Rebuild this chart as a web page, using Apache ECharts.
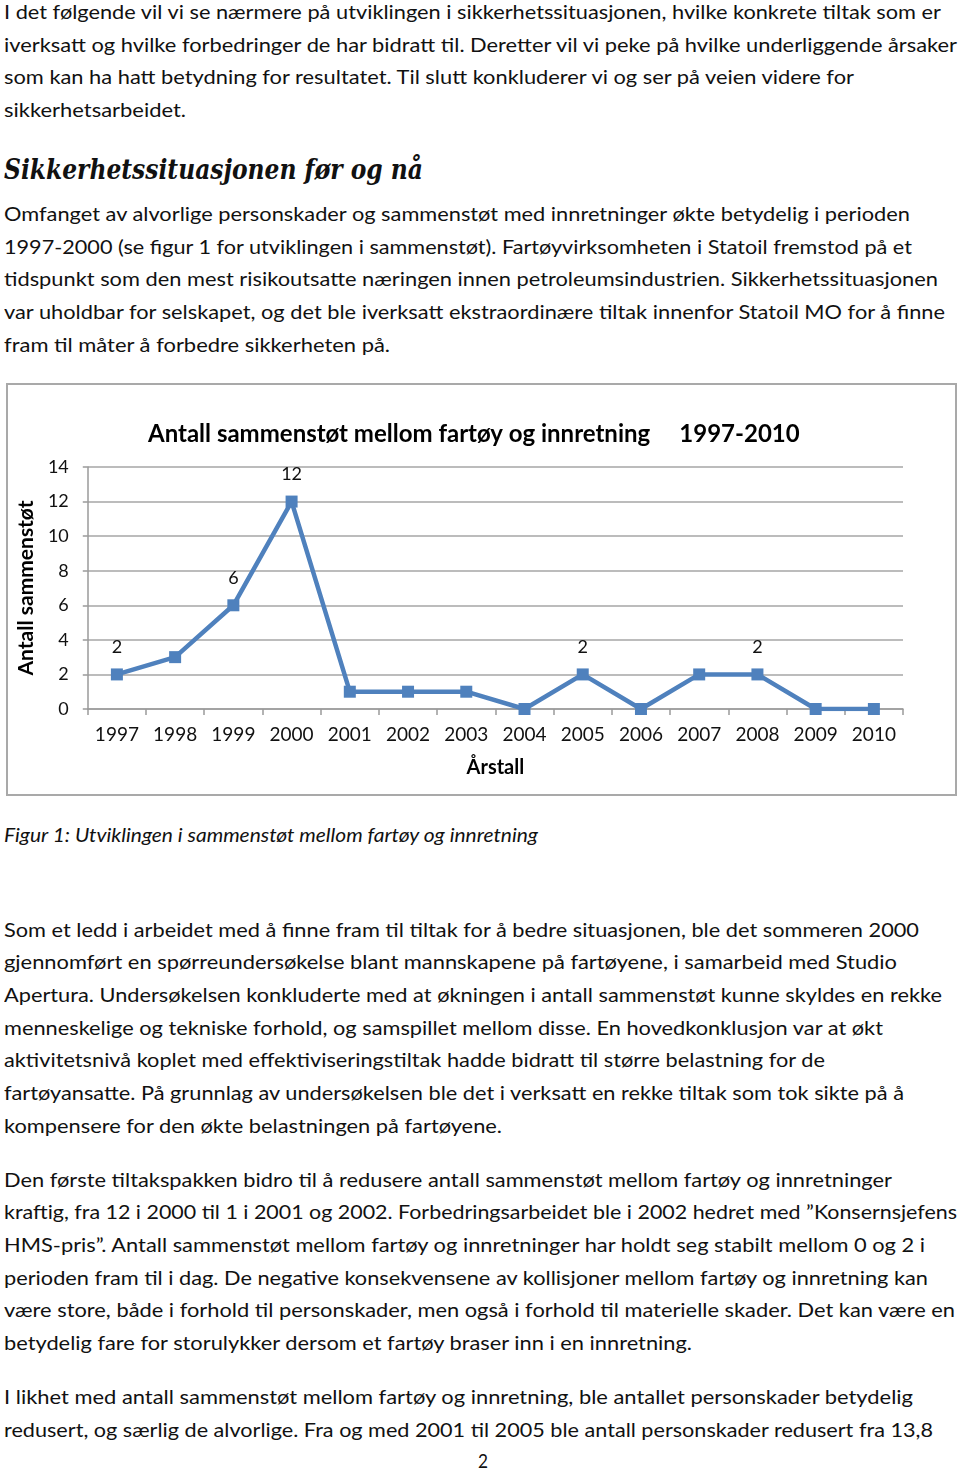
<!DOCTYPE html>
<html>
<head>
<meta charset="utf-8">
<script src="https://cdn.jsdelivr.net/npm/echarts@6/dist/echarts.min.js"></script>
<style>
  html, body { margin: 0; padding: 0; background: #fff; }
  body { position: relative; width: 960px; height: 1468px; overflow: hidden; font-family: Lato, "Open Sans", sans-serif; color: #111; }
  .ln { position: absolute; left: 4px; display: inline-block; white-space: nowrap; font-size: 20px; line-height: 32px; transform-origin: left center; }
  .h { font-family: "DejaVu Serif", serif; font-weight: bold; font-style: italic; font-size: 27px; line-height: 40px; }
  .cap { font-style: italic; }
  #chartBox { position: absolute; left: 6px; top: 383px; width: 951px; height: 413px; border: 2px solid #a9a9a9; box-sizing: border-box; }
  #chart { width: 947px; height: 409px; }
</style>
</head>
<body>

<div class="ln" style="top:-5px" data-w="937">I det følgende vil vi se nærmere på utviklingen i sikkerhetssituasjonen, hvilke konkrete tiltak som er</div>
<div class="ln" style="top:28px" data-w="953">iverksatt og hvilke forbedringer de har bidratt til. Deretter vil vi peke på hvilke underliggende årsaker</div>
<div class="ln" style="top:60px" data-w="850">som kan ha hatt betydning for resultatet. Til slutt konkluderer vi og ser på veien videre for</div>
<div class="ln" style="top:93px" data-w="182">sikkerhetsarbeidet.</div>

<div class="ln h" style="top:150px" data-w="419">Sikkerhetssituasjonen før og nå</div>

<div class="ln" style="top:197px" data-w="906">Omfanget av alvorlige personskader og sammenstøt med innretninger økte betydelig i perioden</div>
<div class="ln" style="top:230px" data-w="908">1997-2000 (se figur 1 for utviklingen i sammenstøt). Fartøyvirksomheten i Statoil fremstod på et</div>
<div class="ln" style="top:262px" data-w="934">tidspunkt som den mest risikoutsatte næringen innen petroleumsindustrien. Sikkerhetssituasjonen</div>
<div class="ln" style="top:295px" data-w="941">var uholdbar for selskapet, og det ble iverksatt ekstraordinære tiltak innenfor Statoil MO for å finne</div>
<div class="ln" style="top:328px" data-w="386">fram til måter å forbedre sikkerheten på.</div>

<div id="chartBox"><div id="chart"></div></div>

<div class="ln cap" style="top:818px" data-w="534">Figur 1: Utviklingen i sammenstøt mellom fartøy og innretning</div>

<div class="ln" style="top:913px" data-w="915">Som et ledd i arbeidet med å finne fram til tiltak for å bedre situasjonen, ble det sommeren 2000</div>
<div class="ln" style="top:945px" data-w="893">gjennomført en spørreundersøkelse blant mannskapene på fartøyene, i samarbeid med Studio</div>
<div class="ln" style="top:978px" data-w="938">Apertura. Undersøkelsen konkluderte med at økningen i antall sammenstøt kunne skyldes en rekke</div>
<div class="ln" style="top:1011px" data-w="879">menneskelige og tekniske forhold, og samspillet mellom disse. En hovedkonklusjon var at økt</div>
<div class="ln" style="top:1043px" data-w="821">aktivitetsnivå koplet med effektiviseringstiltak hadde bidratt til større belastning for de</div>
<div class="ln" style="top:1076px" data-w="900">fartøyansatte. På grunnlag av undersøkelsen ble det i verksatt en rekke tiltak som tok sikte på å</div>
<div class="ln" style="top:1109px" data-w="498">kompensere for den økte belastningen på fartøyene.</div>

<div class="ln" style="top:1163px" data-w="888">Den første tiltakspakken bidro til å redusere antall sammenstøt mellom fartøy og innretninger</div>
<div class="ln" style="top:1195px" data-w="953">kraftig, fra 12 i 2000 til 1 i 2001 og 2002. Forbedringsarbeidet ble i 2002 hedret med ”Konsernsjefens</div>
<div class="ln" style="top:1228px" data-w="921">HMS-pris”. Antall sammenstøt mellom fartøy og innretninger har holdt seg stabilt mellom 0 og 2 i</div>
<div class="ln" style="top:1261px" data-w="924">perioden fram til i dag. De negative konsekvensene av kollisjoner mellom fartøy og innretning kan</div>
<div class="ln" style="top:1293px" data-w="951">være store, både i forhold til personskader, men også i forhold til materielle skader. Det kan være en</div>
<div class="ln" style="top:1326px" data-w="688">betydelig fare for storulykker dersom et fartøy braser inn i en innretning.</div>

<div class="ln" style="top:1380px" data-w="909">I likhet med antall sammenstøt mellom fartøy og innretning, ble antallet personskader betydelig</div>
<div class="ln" style="top:1413px" data-w="929">redusert, og særlig de alvorlige. Fra og med 2001 til 2005 ble antall personskader redusert fra 13,8</div>
<div class="ln" style="top:1444px; left:478px" data-w="10">2</div>

<script>
// fit each text line to the width it has in the original page
document.querySelectorAll(".ln").forEach((el) => {
  const target = +el.dataset.w;
  const measured = el.getBoundingClientRect().width;
  if (measured > 0) el.style.transform = `scaleX(${target / measured})`;
});

const years = ["1997", "1998", "1999", "2000", "2001", "2002", "2003", "2004", "2005", "2006", "2007", "2008", "2009", "2010"];
const collisions = [2, 3, 6, 12, 1, 1, 1, 0, 2, 0, 2, 2, 0, 0];
const labeledYears = ["1997", "1999", "2000", "2005", "2008"];
const yTicks = { min: 0, max: 14, interval: 2 };

const font = "Lato, 'Open Sans', sans-serif";
const chart = echarts.init(document.getElementById("chart"));

chart.setOption({
  animation: false,
  title: {
    text: "Antall sammenstøt mellom fartøy og innretning     1997-2010",
    left: 135,
    top: 32,
    textStyle: { fontFamily: font, fontSize: 24, fontWeight: "bold", color: "#000" },
  },
  grid: { left: 79, top: 82, right: 52, bottom: 85 },
  xAxis: {
    type: "category",
    data: years,
    name: "Årstall",
    nameLocation: "middle",
    nameGap: 49,
    nameTextStyle: { fontFamily: font, fontSize: 20, fontWeight: "bold", color: "#000" },
    axisLine: { lineStyle: { color: "#9a9a9a", width: 1.5 } },
    axisTick: { show: true, length: 6, lineStyle: { color: "#9a9a9a", width: 1.5 } },
    axisLabel: { fontFamily: font, fontSize: 19, color: "#111", margin: 16 },
  },
  yAxis: {
    type: "value",
    min: yTicks.min,
    max: yTicks.max,
    interval: yTicks.interval,
    name: "Antall sammenstøt",
    nameLocation: "middle",
    nameGap: 48,
    nameRotate: 90,
    nameTextStyle: { fontFamily: font, fontSize: 21, fontWeight: "bold", color: "#000" },
    axisLine: { show: true, lineStyle: { color: "#9a9a9a", width: 1.5 } },
    axisTick: { show: true, length: 5, lineStyle: { color: "#9a9a9a", width: 1.5 } },
    axisLabel: { fontFamily: font, fontSize: 18, color: "#111", margin: 19 },
    splitLine: { lineStyle: { color: "#a6a6a6", width: 1.5 } },
  },
  series: [
    {
      type: "line",
      data: collisions.map((v, i) => ({
        value: v,
        label: { show: labeledYears.includes(years[i]) },
      })),
      symbol: "rect",
      symbolSize: 12,
      lineStyle: { color: "#4f81bd", width: 4.5 },
      itemStyle: { color: "#4f81bd" },
      label: {
        position: "top",
        distance: 12,
        fontFamily: font,
        fontSize: 18,
        color: "#111",
      },
    },
  ],
});
</script>
</body>
</html>
